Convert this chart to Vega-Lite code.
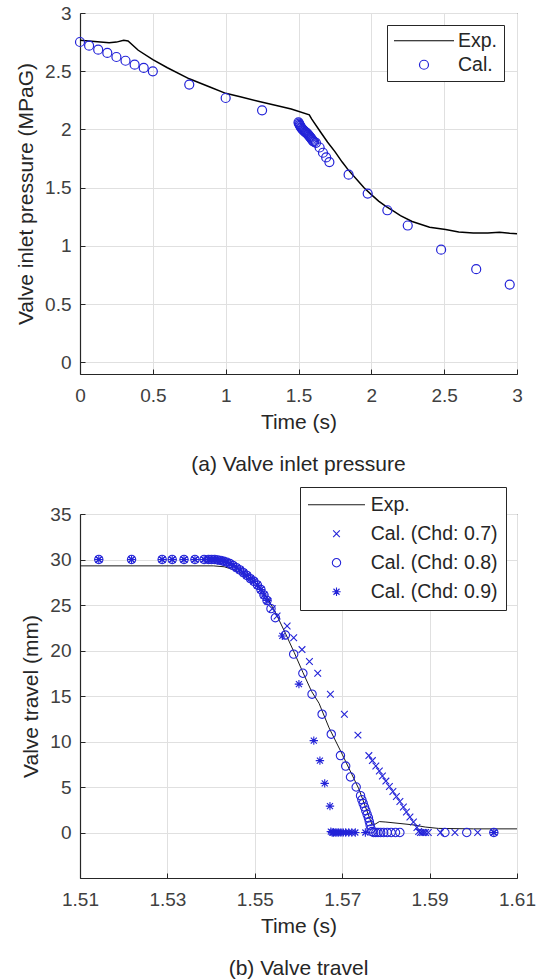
{
  "$schema": "https://vega.github.io/schema/vega-lite/v6.json",
  "background": "white",
  "padding": {"left": 15, "top": 3, "right": 10, "bottom": 3},
  "resolve": {"scale": {"color": "independent", "shape": "independent"}, "legend": {"color": "independent", "shape": "independent"}},
  "config": {
    "font": "Liberation Sans",
    "view": {"stroke": "#262626", "strokeWidth": 1},
    "axis": {"labelFont": "Liberation Sans", "labelFontSize": 19, "labelColor": "#404040", "titleFont": "Liberation Sans", "titleFontSize": 21, "titleFontWeight": "normal", "titleColor": "#262626", "domainColor": "#262626", "domainWidth": 1.2, "tickColor": "#262626", "tickSize": -5, "tickWidth": 1, "gridColor": "#e0e0e0", "gridWidth": 1, "labelFlush": false, "labelOverlap": false},
    "axisX": {"labelPadding": 17, "titlePadding": 6},
    "axisY": {"labelPadding": 14, "titlePadding": 8},
    "title": {"font": "Liberation Sans", "fontSize": 21, "fontWeight": "normal", "color": "#262626"},
    "concat": {"spacing": 10}
  },
  "datasets": {
    "expA": [
      {"t": 0, "v": 2.765, "s": "Exp."}, {"t": 0.1, "v": 2.755, "s": "Exp."}, {"t": 0.2, "v": 2.745, "s": "Exp."}, {"t": 0.25, "v": 2.75, "s": "Exp."}, {"t": 0.3, "v": 2.765, "s": "Exp."}, {"t": 0.33, "v": 2.76, "s": "Exp."}, {"t": 0.4, "v": 2.68, "s": "Exp."}, {"t": 0.5, "v": 2.6, "s": "Exp."}, {"t": 0.6, "v": 2.53, "s": "Exp."}, {"t": 0.75, "v": 2.435, "s": "Exp."}, {"t": 0.9, "v": 2.36, "s": "Exp."}, {"t": 1.0, "v": 2.31, "s": "Exp."}, {"t": 1.1, "v": 2.28, "s": "Exp."}, {"t": 1.23, "v": 2.24, "s": "Exp."}, {"t": 1.37, "v": 2.2, "s": "Exp."}, {"t": 1.45, "v": 2.175, "s": "Exp."}, {"t": 1.574, "v": 2.125, "s": "Exp."}, {"t": 1.59, "v": 2.09, "s": "Exp."}, {"t": 1.65, "v": 1.98, "s": "Exp."}, {"t": 1.7, "v": 1.89, "s": "Exp."}, {"t": 1.75, "v": 1.81, "s": "Exp."}, {"t": 1.8, "v": 1.72, "s": "Exp."}, {"t": 1.84, "v": 1.655, "s": "Exp."}, {"t": 1.9, "v": 1.57, "s": "Exp."}, {"t": 1.95, "v": 1.5, "s": "Exp."}, {"t": 2.0, "v": 1.44, "s": "Exp."}, {"t": 2.05, "v": 1.385, "s": "Exp."}, {"t": 2.1, "v": 1.34, "s": "Exp."}, {"t": 2.15, "v": 1.3, "s": "Exp."}, {"t": 2.2, "v": 1.26, "s": "Exp."}, {"t": 2.28, "v": 1.21, "s": "Exp."}, {"t": 2.4, "v": 1.16, "s": "Exp."}, {"t": 2.51, "v": 1.14, "s": "Exp."}, {"t": 2.6, "v": 1.12, "s": "Exp."}, {"t": 2.7, "v": 1.11, "s": "Exp."}, {"t": 2.8, "v": 1.11, "s": "Exp."}, {"t": 2.88, "v": 1.117, "s": "Exp."}, {"t": 2.95, "v": 1.108, "s": "Exp."}, {"t": 3.0, "v": 1.105, "s": "Exp."}
    ],
    "calA": [
      {"t": 0, "v": 2.751, "s": "Cal."}, {"t": 0.0625, "v": 2.719, "s": "Cal."}, {"t": 0.125, "v": 2.685, "s": "Cal."}, {"t": 0.1875, "v": 2.657, "s": "Cal."}, {"t": 0.25, "v": 2.622, "s": "Cal."}, {"t": 0.3125, "v": 2.59, "s": "Cal."}, {"t": 0.375, "v": 2.556, "s": "Cal."}, {"t": 0.4375, "v": 2.528, "s": "Cal."}, {"t": 0.5, "v": 2.499, "s": "Cal."}, {"t": 0.75, "v": 2.385, "s": "Cal."}, {"t": 1.0, "v": 2.27, "s": "Cal."}, {"t": 1.25, "v": 2.164, "s": "Cal."},
      {"t": 1.5, "v": 2.06, "s": "Cal."}, {"t": 1.504, "v": 2.05, "s": "Cal."}, {"t": 1.508, "v": 2.04, "s": "Cal."}, {"t": 1.512, "v": 2.03, "s": "Cal."}, {"t": 1.516, "v": 2.02, "s": "Cal."}, {"t": 1.52, "v": 2.013, "s": "Cal."}, {"t": 1.525, "v": 2.005, "s": "Cal."}, {"t": 1.53, "v": 1.998, "s": "Cal."}, {"t": 1.535, "v": 1.992, "s": "Cal."}, {"t": 1.54, "v": 1.986, "s": "Cal."}, {"t": 1.545, "v": 1.98, "s": "Cal."}, {"t": 1.55, "v": 1.975, "s": "Cal."}, {"t": 1.555, "v": 1.97, "s": "Cal."}, {"t": 1.56, "v": 1.964, "s": "Cal."}, {"t": 1.565, "v": 1.957, "s": "Cal."}, {"t": 1.57, "v": 1.95, "s": "Cal."}, {"t": 1.575, "v": 1.943, "s": "Cal."}, {"t": 1.58, "v": 1.935, "s": "Cal."}, {"t": 1.585, "v": 1.927, "s": "Cal."}, {"t": 1.59, "v": 1.918, "s": "Cal."}, {"t": 1.595, "v": 1.91, "s": "Cal."}, {"t": 1.6, "v": 1.9, "s": "Cal."}, {"t": 1.608, "v": 1.893, "s": "Cal."},
      {"t": 1.62, "v": 1.885, "s": "Cal."}, {"t": 1.645, "v": 1.845, "s": "Cal."}, {"t": 1.668, "v": 1.8, "s": "Cal."}, {"t": 1.69, "v": 1.76, "s": "Cal."}, {"t": 1.712, "v": 1.72, "s": "Cal."}, {"t": 1.844, "v": 1.612, "s": "Cal."}, {"t": 1.975, "v": 1.449, "s": "Cal."}, {"t": 2.11, "v": 1.306, "s": "Cal."}, {"t": 2.25, "v": 1.175, "s": "Cal."}, {"t": 2.479, "v": 0.968, "s": "Cal."}, {"t": 2.72, "v": 0.8, "s": "Cal."}, {"t": 2.95, "v": 0.668, "s": "Cal."}
    ],
    "expB": [
      {"t": 1.51, "v": 29.3, "s": "Exp."}, {"t": 1.5405, "v": 29.3, "s": "Exp."}, {"t": 1.543, "v": 29.2, "s": "Exp."}, {"t": 1.545, "v": 28.9, "s": "Exp."}, {"t": 1.547, "v": 28.5, "s": "Exp."}, {"t": 1.549, "v": 27.9, "s": "Exp."}, {"t": 1.551, "v": 27.0, "s": "Exp."}, {"t": 1.553, "v": 25.7, "s": "Exp."}, {"t": 1.555, "v": 23.9, "s": "Exp."}, {"t": 1.557, "v": 21.9, "s": "Exp."}, {"t": 1.559, "v": 19.8, "s": "Exp."}, {"t": 1.561, "v": 17.6, "s": "Exp."}, {"t": 1.563, "v": 15.5, "s": "Exp."}, {"t": 1.5647, "v": 14.2, "s": "Exp."}, {"t": 1.567, "v": 11.5, "s": "Exp."}, {"t": 1.57, "v": 8.6, "s": "Exp."}, {"t": 1.5738, "v": 4.8, "s": "Exp."}, {"t": 1.5768, "v": 0.9, "s": "Exp."}, {"t": 1.5775, "v": 0.9, "s": "Exp."}, {"t": 1.5785, "v": 1.2, "s": "Exp."}, {"t": 1.58, "v": 1.15, "s": "Exp."}, {"t": 1.583, "v": 1.0, "s": "Exp."}, {"t": 1.586, "v": 0.85, "s": "Exp."}, {"t": 1.589, "v": 0.6, "s": "Exp."}, {"t": 1.592, "v": 0.45, "s": "Exp."}, {"t": 1.6, "v": 0.4, "s": "Exp."}, {"t": 1.61, "v": 0.4, "s": "Exp."}
    ],
    "calB": [
      {"t": 1.5143, "v": 30, "s": "Cal. (Chd: 0.7)"}, {"t": 1.5218, "v": 30, "s": "Cal. (Chd: 0.7)"}, {"t": 1.5288, "v": 30, "s": "Cal. (Chd: 0.7)"}, {"t": 1.5311, "v": 30, "s": "Cal. (Chd: 0.7)"}, {"t": 1.5338, "v": 30, "s": "Cal. (Chd: 0.7)"}, {"t": 1.5363, "v": 30, "s": "Cal. (Chd: 0.7)"}, {"t": 1.5384, "v": 30, "s": "Cal. (Chd: 0.7)"}, {"t": 1.5394, "v": 30, "s": "Cal. (Chd: 0.7)"}, {"t": 1.5401, "v": 30, "s": "Cal. (Chd: 0.7)"}, {"t": 1.5408, "v": 30, "s": "Cal. (Chd: 0.7)"}, {"t": 1.5415, "v": 29.95, "s": "Cal. (Chd: 0.7)"}, {"t": 1.5422, "v": 29.9, "s": "Cal. (Chd: 0.7)"}, {"t": 1.5429, "v": 29.8, "s": "Cal. (Chd: 0.7)"}, {"t": 1.5436, "v": 29.7, "s": "Cal. (Chd: 0.7)"}, {"t": 1.5443, "v": 29.55, "s": "Cal. (Chd: 0.7)"}, {"t": 1.545, "v": 29.35, "s": "Cal. (Chd: 0.7)"}, {"t": 1.5458, "v": 29.1, "s": "Cal. (Chd: 0.7)"}, {"t": 1.5466, "v": 28.85, "s": "Cal. (Chd: 0.7)"}, {"t": 1.5474, "v": 28.55, "s": "Cal. (Chd: 0.7)"}, {"t": 1.5482, "v": 28.25, "s": "Cal. (Chd: 0.7)"}, {"t": 1.549, "v": 27.9, "s": "Cal. (Chd: 0.7)"}, {"t": 1.5498, "v": 27.6, "s": "Cal. (Chd: 0.7)"}, {"t": 1.5506, "v": 27.2, "s": "Cal. (Chd: 0.7)"}, {"t": 1.5514, "v": 26.7, "s": "Cal. (Chd: 0.7)"}, {"t": 1.5521, "v": 26.1, "s": "Cal. (Chd: 0.7)"}, {"t": 1.553, "v": 25.4, "s": "Cal. (Chd: 0.7)"}, {"t": 1.554, "v": 24.6, "s": "Cal. (Chd: 0.7)"}, {"t": 1.5551, "v": 23.8, "s": "Cal. (Chd: 0.7)"},
      {"t": 1.5574, "v": 22.7, "s": "Cal. (Chd: 0.7)"}, {"t": 1.5589, "v": 21.4, "s": "Cal. (Chd: 0.7)"}, {"t": 1.5608, "v": 20.1, "s": "Cal. (Chd: 0.7)"}, {"t": 1.5625, "v": 18.8, "s": "Cal. (Chd: 0.7)"}, {"t": 1.5644, "v": 17.5, "s": "Cal. (Chd: 0.7)"}, {"t": 1.5673, "v": 15.2, "s": "Cal. (Chd: 0.7)"}, {"t": 1.5705, "v": 13.0, "s": "Cal. (Chd: 0.7)"}, {"t": 1.5736, "v": 10.7, "s": "Cal. (Chd: 0.7)"},
      {"t": 1.5761, "v": 8.45, "s": "Cal. (Chd: 0.7)"}, {"t": 1.5769, "v": 7.9, "s": "Cal. (Chd: 0.7)"}, {"t": 1.5777, "v": 7.3, "s": "Cal. (Chd: 0.7)"}, {"t": 1.5785, "v": 6.75, "s": "Cal. (Chd: 0.7)"}, {"t": 1.5792, "v": 6.2, "s": "Cal. (Chd: 0.7)"}, {"t": 1.58, "v": 5.65, "s": "Cal. (Chd: 0.7)"}, {"t": 1.5808, "v": 5.05, "s": "Cal. (Chd: 0.7)"}, {"t": 1.5816, "v": 4.5, "s": "Cal. (Chd: 0.7)"}, {"t": 1.5824, "v": 3.95, "s": "Cal. (Chd: 0.7)"}, {"t": 1.5832, "v": 3.4, "s": "Cal. (Chd: 0.7)"}, {"t": 1.584, "v": 2.8, "s": "Cal. (Chd: 0.7)"}, {"t": 1.5847, "v": 2.25, "s": "Cal. (Chd: 0.7)"}, {"t": 1.5855, "v": 1.7, "s": "Cal. (Chd: 0.7)"}, {"t": 1.5863, "v": 1.15, "s": "Cal. (Chd: 0.7)"}, {"t": 1.5871, "v": 0.55, "s": "Cal. (Chd: 0.7)"}, {"t": 1.5875, "v": 0.1, "s": "Cal. (Chd: 0.7)"}, {"t": 1.5879, "v": 0, "s": "Cal. (Chd: 0.7)"}, {"t": 1.5883, "v": 0, "s": "Cal. (Chd: 0.7)"}, {"t": 1.5887, "v": 0, "s": "Cal. (Chd: 0.7)"}, {"t": 1.5891, "v": 0, "s": "Cal. (Chd: 0.7)"}, {"t": 1.5897, "v": 0, "s": "Cal. (Chd: 0.7)"}, {"t": 1.5925, "v": 0, "s": "Cal. (Chd: 0.7)"}, {"t": 1.5958, "v": 0, "s": "Cal. (Chd: 0.7)"}, {"t": 1.601, "v": 0, "s": "Cal. (Chd: 0.7)"}, {"t": 1.6047, "v": 0, "s": "Cal. (Chd: 0.7)"},
      {"t": 1.5143, "v": 30, "s": "Cal. (Chd: 0.8)"}, {"t": 1.5218, "v": 30, "s": "Cal. (Chd: 0.8)"}, {"t": 1.5288, "v": 30, "s": "Cal. (Chd: 0.8)"}, {"t": 1.5311, "v": 30, "s": "Cal. (Chd: 0.8)"}, {"t": 1.5338, "v": 30, "s": "Cal. (Chd: 0.8)"}, {"t": 1.5363, "v": 30, "s": "Cal. (Chd: 0.8)"}, {"t": 1.5384, "v": 30, "s": "Cal. (Chd: 0.8)"}, {"t": 1.5394, "v": 30, "s": "Cal. (Chd: 0.8)"}, {"t": 1.5401, "v": 30, "s": "Cal. (Chd: 0.8)"}, {"t": 1.5408, "v": 30, "s": "Cal. (Chd: 0.8)"}, {"t": 1.5415, "v": 29.95, "s": "Cal. (Chd: 0.8)"}, {"t": 1.5422, "v": 29.9, "s": "Cal. (Chd: 0.8)"}, {"t": 1.5429, "v": 29.8, "s": "Cal. (Chd: 0.8)"}, {"t": 1.5436, "v": 29.7, "s": "Cal. (Chd: 0.8)"}, {"t": 1.5443, "v": 29.55, "s": "Cal. (Chd: 0.8)"}, {"t": 1.545, "v": 29.35, "s": "Cal. (Chd: 0.8)"}, {"t": 1.5458, "v": 29.1, "s": "Cal. (Chd: 0.8)"}, {"t": 1.5466, "v": 28.85, "s": "Cal. (Chd: 0.8)"}, {"t": 1.5474, "v": 28.55, "s": "Cal. (Chd: 0.8)"}, {"t": 1.5482, "v": 28.25, "s": "Cal. (Chd: 0.8)"}, {"t": 1.549, "v": 27.9, "s": "Cal. (Chd: 0.8)"}, {"t": 1.5498, "v": 27.6, "s": "Cal. (Chd: 0.8)"}, {"t": 1.5506, "v": 27.2, "s": "Cal. (Chd: 0.8)"}, {"t": 1.5514, "v": 26.7, "s": "Cal. (Chd: 0.8)"}, {"t": 1.5521, "v": 26.1, "s": "Cal. (Chd: 0.8)"}, {"t": 1.5528, "v": 25.5, "s": "Cal. (Chd: 0.8)"}, {"t": 1.5537, "v": 24.6, "s": "Cal. (Chd: 0.8)"}, {"t": 1.5547, "v": 23.6, "s": "Cal. (Chd: 0.8)"},
      {"t": 1.557, "v": 21.7, "s": "Cal. (Chd: 0.8)"}, {"t": 1.5589, "v": 19.6, "s": "Cal. (Chd: 0.8)"}, {"t": 1.561, "v": 17.5, "s": "Cal. (Chd: 0.8)"}, {"t": 1.5631, "v": 15.2, "s": "Cal. (Chd: 0.8)"}, {"t": 1.5654, "v": 13.0, "s": "Cal. (Chd: 0.8)"}, {"t": 1.5675, "v": 10.8, "s": "Cal. (Chd: 0.8)"}, {"t": 1.5696, "v": 8.45, "s": "Cal. (Chd: 0.8)"}, {"t": 1.5708, "v": 7.3, "s": "Cal. (Chd: 0.8)"}, {"t": 1.5719, "v": 6.1, "s": "Cal. (Chd: 0.8)"}, {"t": 1.5732, "v": 5.0, "s": "Cal. (Chd: 0.8)"}, {"t": 1.5742, "v": 4.05, "s": "Cal. (Chd: 0.8)"}, {"t": 1.5745, "v": 3.6, "s": "Cal. (Chd: 0.8)"}, {"t": 1.5748, "v": 3.2, "s": "Cal. (Chd: 0.8)"}, {"t": 1.5751, "v": 2.8, "s": "Cal. (Chd: 0.8)"}, {"t": 1.5754, "v": 2.4, "s": "Cal. (Chd: 0.8)"}, {"t": 1.5757, "v": 2.0, "s": "Cal. (Chd: 0.8)"}, {"t": 1.576, "v": 1.6, "s": "Cal. (Chd: 0.8)"}, {"t": 1.5762, "v": 1.2, "s": "Cal. (Chd: 0.8)"}, {"t": 1.5764, "v": 0.8, "s": "Cal. (Chd: 0.8)"}, {"t": 1.5766, "v": 0.4, "s": "Cal. (Chd: 0.8)"}, {"t": 1.5768, "v": 0.1, "s": "Cal. (Chd: 0.8)"}, {"t": 1.5772, "v": 0, "s": "Cal. (Chd: 0.8)"}, {"t": 1.5777, "v": 0, "s": "Cal. (Chd: 0.8)"}, {"t": 1.5782, "v": 0, "s": "Cal. (Chd: 0.8)"}, {"t": 1.5788, "v": 0, "s": "Cal. (Chd: 0.8)"}, {"t": 1.5795, "v": 0, "s": "Cal. (Chd: 0.8)"}, {"t": 1.5803, "v": 0, "s": "Cal. (Chd: 0.8)"}, {"t": 1.5812, "v": 0, "s": "Cal. (Chd: 0.8)"}, {"t": 1.5822, "v": 0, "s": "Cal. (Chd: 0.8)"}, {"t": 1.5832, "v": 0, "s": "Cal. (Chd: 0.8)"}, {"t": 1.5935, "v": 0, "s": "Cal. (Chd: 0.8)"}, {"t": 1.5985, "v": 0, "s": "Cal. (Chd: 0.8)"}, {"t": 1.6047, "v": 0, "s": "Cal. (Chd: 0.8)"},
      {"t": 1.5143, "v": 30, "s": "Cal. (Chd: 0.9)"}, {"t": 1.5218, "v": 30, "s": "Cal. (Chd: 0.9)"}, {"t": 1.5288, "v": 30, "s": "Cal. (Chd: 0.9)"}, {"t": 1.5311, "v": 30, "s": "Cal. (Chd: 0.9)"}, {"t": 1.5338, "v": 30, "s": "Cal. (Chd: 0.9)"}, {"t": 1.5363, "v": 30, "s": "Cal. (Chd: 0.9)"}, {"t": 1.5384, "v": 30, "s": "Cal. (Chd: 0.9)"}, {"t": 1.5394, "v": 30, "s": "Cal. (Chd: 0.9)"}, {"t": 1.5401, "v": 30, "s": "Cal. (Chd: 0.9)"}, {"t": 1.5408, "v": 30, "s": "Cal. (Chd: 0.9)"}, {"t": 1.5415, "v": 29.95, "s": "Cal. (Chd: 0.9)"}, {"t": 1.5422, "v": 29.9, "s": "Cal. (Chd: 0.9)"}, {"t": 1.5429, "v": 29.8, "s": "Cal. (Chd: 0.9)"}, {"t": 1.5436, "v": 29.7, "s": "Cal. (Chd: 0.9)"}, {"t": 1.5443, "v": 29.55, "s": "Cal. (Chd: 0.9)"}, {"t": 1.545, "v": 29.35, "s": "Cal. (Chd: 0.9)"}, {"t": 1.5458, "v": 29.1, "s": "Cal. (Chd: 0.9)"}, {"t": 1.5466, "v": 28.85, "s": "Cal. (Chd: 0.9)"}, {"t": 1.5474, "v": 28.55, "s": "Cal. (Chd: 0.9)"}, {"t": 1.5482, "v": 28.25, "s": "Cal. (Chd: 0.9)"}, {"t": 1.549, "v": 27.9, "s": "Cal. (Chd: 0.9)"}, {"t": 1.5498, "v": 27.6, "s": "Cal. (Chd: 0.9)"}, {"t": 1.5506, "v": 27.2, "s": "Cal. (Chd: 0.9)"}, {"t": 1.5514, "v": 26.7, "s": "Cal. (Chd: 0.9)"}, {"t": 1.5521, "v": 26.1, "s": "Cal. (Chd: 0.9)"}, {"t": 1.5528, "v": 25.5, "s": "Cal. (Chd: 0.9)"},
      {"t": 1.5563, "v": 21.6, "s": "Cal. (Chd: 0.9)"}, {"t": 1.5601, "v": 16.3, "s": "Cal. (Chd: 0.9)"}, {"t": 1.5635, "v": 10.1, "s": "Cal. (Chd: 0.9)"}, {"t": 1.5649, "v": 7.9, "s": "Cal. (Chd: 0.9)"}, {"t": 1.566, "v": 5.4, "s": "Cal. (Chd: 0.9)"}, {"t": 1.5672, "v": 2.9, "s": "Cal. (Chd: 0.9)"}, {"t": 1.5674, "v": 0.1, "s": "Cal. (Chd: 0.9)"}, {"t": 1.5677, "v": 0, "s": "Cal. (Chd: 0.9)"}, {"t": 1.568, "v": 0, "s": "Cal. (Chd: 0.9)"}, {"t": 1.5684, "v": 0, "s": "Cal. (Chd: 0.9)"}, {"t": 1.5688, "v": 0, "s": "Cal. (Chd: 0.9)"}, {"t": 1.5692, "v": 0, "s": "Cal. (Chd: 0.9)"}, {"t": 1.5697, "v": 0, "s": "Cal. (Chd: 0.9)"}, {"t": 1.5702, "v": 0, "s": "Cal. (Chd: 0.9)"}, {"t": 1.5708, "v": 0, "s": "Cal. (Chd: 0.9)"}, {"t": 1.5715, "v": 0, "s": "Cal. (Chd: 0.9)"}, {"t": 1.5722, "v": 0, "s": "Cal. (Chd: 0.9)"}, {"t": 1.573, "v": 0, "s": "Cal. (Chd: 0.9)"}, {"t": 1.5753, "v": 0, "s": "Cal. (Chd: 0.9)"}, {"t": 1.6047, "v": 0, "s": "Cal. (Chd: 0.9)"}
    ]
  },
  "vconcat": [
    {
      "width": 437,
      "height": 361,
      "title": {"text": "(a) Valve inlet pressure", "orient": "bottom", "anchor": "middle", "frame": "group", "offset": 22},
      "layer": [
        {
          "data": {"name": "expA"},
          "mark": {"type": "line", "strokeWidth": 1.5},
          "encoding": {
            "x": {"field": "t", "type": "quantitative", "scale": {"domain": [0, 3], "nice": false, "zero": false}, "axis": {"title": "Time (s)", "values": [0, 0.5, 1, 1.5, 2, 2.5, 3], "format": "~g"}},
            "y": {"field": "v", "type": "quantitative", "scale": {"domain": [-0.1, 3], "nice": false, "zero": false}, "axis": {"title": "Valve inlet pressure (MPaG)", "values": [0, 0.5, 1, 1.5, 2, 2.5, 3], "format": "~g"}},
            "color": {"field": "s", "type": "nominal", "scale": {"domain": ["Exp.", "Cal."], "range": ["#000000", "#2323d8"]}, "legend": {"orient": "none", "legendX": 307, "legendY": 12, "title": null, "labelFont": "Liberation Sans", "labelFontSize": 19.5, "labelColor": "#262626", "strokeColor": "#262626", "fillColor": "white", "padding": 6, "rowPadding": 3, "labelOffset": 24.25, "symbolOffset": 21.25, "symbolSize": 81, "symbolStrokeWidth": 1.2}}
          }
        },
        {
          "data": {"name": "calA"},
          "mark": {"type": "point", "filled": false, "strokeWidth": 1.2, "opacity": 1, "size": 81},
          "encoding": {
            "x": {"field": "t", "type": "quantitative"},
            "y": {"field": "v", "type": "quantitative"},
            "color": {"field": "s", "type": "nominal"},
            "shape": {"field": "s", "type": "nominal", "scale": {"domain": ["Exp.", "Cal."], "range": ["M-6.67,0L6.67,0", "circle"]}, "legend": {"orient": "none", "legendX": 307, "legendY": 12, "title": null, "labelFont": "Liberation Sans", "labelFontSize": 19.5, "labelColor": "#262626", "strokeColor": "#262626", "fillColor": "white", "padding": 6, "rowPadding": 3, "labelOffset": 24.25, "symbolOffset": 21.25, "symbolSize": 81, "symbolStrokeWidth": 1.2}}
          }
        }
      ]
    },
    {
      "width": 437,
      "height": 364,
      "title": {"text": "(b) Valve travel", "orient": "bottom", "anchor": "middle", "frame": "group", "offset": 22},
      "layer": [
        {
          "data": {"name": "expB"},
          "mark": {"type": "line", "strokeWidth": 1},
          "encoding": {
            "x": {"field": "t", "type": "quantitative", "scale": {"domain": [1.51, 1.61], "nice": false, "zero": false}, "axis": {"title": "Time (s)", "values": [1.51, 1.53, 1.55, 1.57, 1.59, 1.61], "format": "~g"}},
            "y": {"field": "v", "type": "quantitative", "scale": {"domain": [-5, 35], "nice": false, "zero": false}, "axis": {"title": "Valve travel (mm)", "values": [0, 5, 10, 15, 20, 25, 30, 35], "format": "~g"}},
            "color": {"field": "s", "type": "nominal", "scale": {"domain": ["Exp.", "Cal. (Chd: 0.7)", "Cal. (Chd: 0.8)", "Cal. (Chd: 0.9)"], "range": ["#1a1a1a", "#2323d8", "#2323d8", "#2323d8"]}, "legend": {"orient": "none", "legendX": 220, "legendY": -27, "title": null, "labelFont": "Liberation Sans", "labelFontSize": 19.5, "labelColor": "#262626", "strokeColor": "#262626", "fillColor": "white", "padding": 8, "rowPadding": 8, "labelOffset": 24.45, "symbolOffset": 18.75, "symbolSize": 70, "symbolStrokeWidth": 1.1}}
          }
        },
        {
          "data": {"name": "calB"},
          "mark": {"type": "point", "filled": false, "strokeWidth": 1.1, "opacity": 1, "size": 70},
          "encoding": {
            "x": {"field": "t", "type": "quantitative"},
            "y": {"field": "v", "type": "quantitative"},
            "color": {"field": "s", "type": "nominal"},
            "shape": {"field": "s", "type": "nominal", "scale": {"domain": ["Exp.", "Cal. (Chd: 0.7)", "Cal. (Chd: 0.8)", "Cal. (Chd: 0.9)"], "range": ["M-6.81,0L6.81,0", "M-0.8,-0.8L0.8,0.8M-0.8,0.8L0.8,-0.8", "circle", "M-1,0L1,0M0,-1L0,1M-0.72,-0.72L0.72,0.72M-0.72,0.72L0.72,-0.72"]}, "legend": {"orient": "none", "legendX": 220, "legendY": -27, "title": null, "labelFont": "Liberation Sans", "labelFontSize": 19.5, "labelColor": "#262626", "strokeColor": "#262626", "fillColor": "white", "padding": 8, "rowPadding": 8, "labelOffset": 24.45, "symbolOffset": 18.75, "symbolSize": 70, "symbolStrokeWidth": 1.1}}
          }
        }
      ]
    }
  ]
}
